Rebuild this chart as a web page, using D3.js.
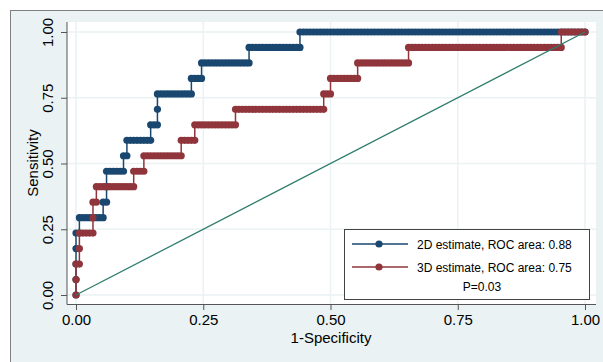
<!DOCTYPE html>
<html lang="en">
<head>
<meta charset="UTF-8">
<title>ROC</title>
<style>
    body { margin: 0; background: #fff; }
    svg { display: block; font-family: "Liberation Sans", Arial, sans-serif; }
</style>
</head>
<body>
<svg id="graph" width="603" height="362"></svg>
<script src="https://cdn.jsdelivr.net/npm/d3@7"></script>
<script>
    // sample sizes (negatives / positives) behind the ROC points
    const nNeg = 150;
    const nPos = 17;

    // corners of each empirical ROC curve, as [false positives, true positives]
    const roc2D = [[0, 0], [0, 4], [1, 4], [1, 5], [8, 5], [8, 6], [9, 6], [9, 8], [14, 8], [14, 9],
        [15, 9], [15, 10], [22, 10], [22, 11], [24, 11], [24, 13], [34, 13], [34, 14], [37, 14],
        [37, 15], [51, 15], [51, 16], [66, 16], [66, 17], [150, 17]];
    const roc3D = [[0, 0], [0, 2], [1, 2], [1, 4], [5, 4], [5, 6], [6, 6], [6, 7], [17, 7], [17, 8],
        [20, 8], [20, 9], [31, 9], [31, 10], [35, 10], [35, 11], [47, 11], [47, 12], [73, 12],
        [73, 13], [75, 13], [75, 14], [83, 14], [83, 15], [98, 15], [98, 16], [143, 16], [143, 17],
        [150, 17]];

    const seriesNames = ["2D estimate, ROC area: 0.88", "3D estimate, ROC area: 0.75"];
    const seriesColors = ["#1a476f", "#90353b"];
    const pNote = "P=0.03";
    const ticks = [0, 0.25, 0.5, 0.75, 1];

    // every operating point: one unit step at a time along the curve
    function points(corners) {
        const out = [corners[0]];
        for (let i = 1; i < corners.length; i++) {
            let [fx, tx] = corners[i - 1];
            const [gx, gy] = corners[i];
            while (fx !== gx || tx !== gy) {
                if (fx < gx) fx++;
                else if (tx < gy) tx++;
                out.push([fx, tx]);
            }
        }
        return out.map(d => ({ x: d[0] / nNeg, y: d[1] / nPos }));
    }

    const svg = d3.select("#graph");

    // graph region
    svg.append("rect").attr("x", 10.5).attr("y", 10.5).attr("width", 620).attr("height", 380)
        .attr("fill", "#eaf2f3").attr("stroke", "#7f7f7f");

    const pLeft = 67, pRight = 596, pTop = 22, pBottom = 304;
    svg.append("rect").attr("x", pLeft).attr("y", pTop)
        .attr("width", pRight - pLeft).attr("height", pBottom - pTop).attr("fill", "#fff");

    const x = d3.scaleLinear().domain([0, 1]).range([76, 585]);
    const y = d3.scaleLinear().domain([0, 1]).range([295, 32]);

    // grid
    const grid = svg.append("g").attr("stroke", "#eaf2f3").attr("stroke-width", 1.5);
    grid.selectAll(".gx").data(ticks).enter().append("line")
        .attr("x1", d => x(d)).attr("x2", d => x(d)).attr("y1", pTop).attr("y2", pBottom);
    grid.selectAll(".gy").data(ticks).enter().append("line")
        .attr("y1", d => y(d)).attr("y2", d => y(d)).attr("x1", pLeft).attr("x2", pRight);

    // axes
    const fmt = d3.format(".2f");
    const xAxis = svg.append("g").attr("transform", "translate(0," + pBottom + ")")
        .call(d3.axisBottom(x).tickValues(ticks).tickFormat(fmt).tickSize(6).tickPadding(4));
    const yAxis = svg.append("g").attr("transform", "translate(" + pLeft + ",0)")
        .call(d3.axisLeft(y).tickValues(ticks).tickFormat(fmt).tickSize(6));
    [xAxis, yAxis].forEach(a => {
        a.select(".domain").remove();
        a.selectAll(".tick line").attr("stroke", "#555");
        a.selectAll(".tick text").attr("fill", "#000").style("font-size", "15px")
            .style("font-family", "'Liberation Sans', Arial, sans-serif");
    });
    yAxis.selectAll(".tick text")
        .attr("x", null).attr("dy", null)
        .attr("text-anchor", "middle")
        .attr("transform", "translate(-14,0) rotate(-90)");

    svg.append("line").attr("x1", pLeft).attr("x2", pLeft).attr("y1", pTop).attr("y2", pBottom + 0.5)
        .attr("stroke", "#555");
    svg.append("line").attr("x1", pLeft).attr("x2", pRight).attr("y1", pBottom + 0.5).attr("y2", pBottom + 0.5)
        .attr("stroke", "#555");

    svg.append("text").attr("x", 331).attr("y", 343).attr("text-anchor", "middle")
        .style("font-size", "15px").text("1-Specificity");
    svg.append("text").attr("transform", "translate(38,163) rotate(-90)").attr("text-anchor", "middle")
        .style("font-size", "15px").text("Sensitivity");

    // curves
    const line = d3.line().x(d => x(d.x)).y(d => y(d.y));
    [roc2D, roc3D].forEach((c, i) => {
        const pts = points(c);
        const g = svg.append("g");
        g.append("path").datum(pts).attr("d", line).attr("fill", "none")
            .attr("stroke", seriesColors[i]).attr("stroke-width", 1.5);
        g.selectAll("circle").data(pts).enter().append("circle")
            .attr("cx", d => x(d.x)).attr("cy", d => y(d.y)).attr("r", 3.6)
            .attr("fill", seriesColors[i]);
    });

    // reference line
    svg.append("line").attr("x1", x(0)).attr("y1", y(0)).attr("x2", x(1)).attr("y2", y(1))
        .attr("stroke", "#2f7d6d").attr("stroke-width", 1.3);

    // legend
    const lg = svg.append("g");
    lg.append("rect").attr("x", 344.5).attr("y", 229.5).attr("width", 245).attr("height", 70)
        .attr("fill", "#fff").attr("stroke", "#444");
    seriesNames.forEach((name, i) => {
        const ly = 244 + i * 23;
        lg.append("line").attr("x1", 352).attr("x2", 408).attr("y1", ly).attr("y2", ly)
            .attr("stroke", seriesColors[i]).attr("stroke-width", 1.5);
        lg.append("circle").attr("cx", 379).attr("cy", ly).attr("r", 3.6).attr("fill", seriesColors[i]);
        lg.append("text").attr("x", 417).attr("y", ly + 4.5).style("font-size", "12px").text(name);
    });
    lg.append("text").attr("x", 482).attr("y", 290.5).attr("text-anchor", "middle")
        .style("font-size", "12px").text(pNote);
</script>
</body>
</html>
